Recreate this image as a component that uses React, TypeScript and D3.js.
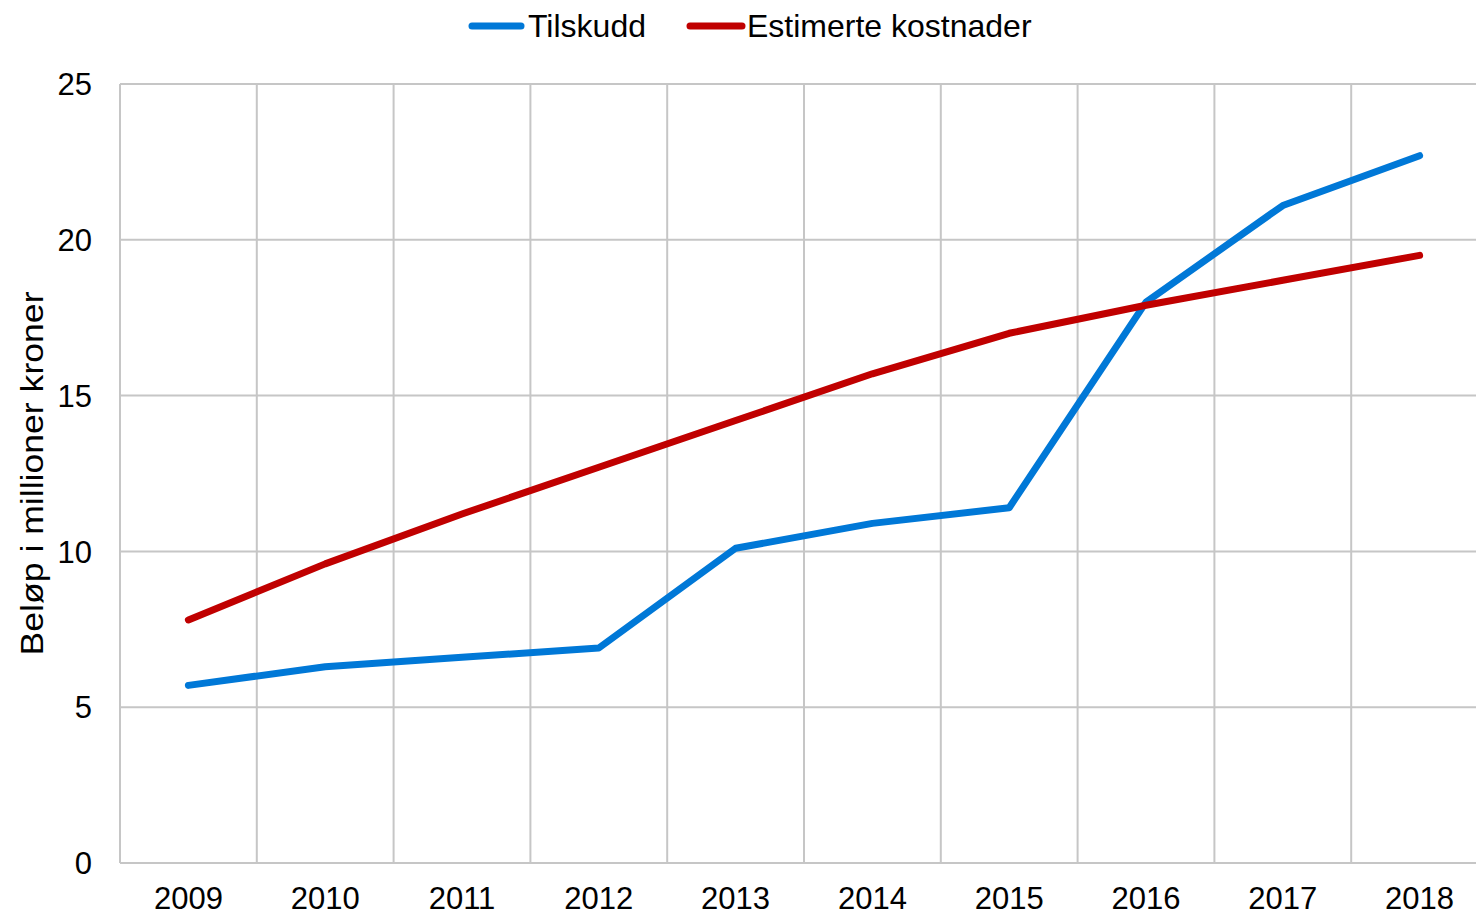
import React from 'react';
import * as d3 from 'd3';

const years = ['2009', '2010', '2011', '2012', '2013', '2014', '2015', '2016', '2017', '2018'];
const tilskudd = [5.7, 6.3, 6.6, 6.9, 10.1, 10.9, 11.4, 18.0, 21.1, 22.7];
const estimerte = [7.8, 9.6, 11.2, 12.7, 14.2, 15.7, 17.0, 17.9, 18.7, 19.5];
const yTicks = [0, 5, 10, 15, 20, 25];

const series = [
    { name: 'Tilskudd', values: tilskudd, color: '#0078D7' },
    { name: 'Estimerte kostnader', values: estimerte, color: '#C00000' },
];

const App = () => {
    const width = 1476;
    const height = 916;
    const margin = { top: 84, right: -12, bottom: 53, left: 120 };
    const font = '"Liberation Sans", Arial, sans-serif';

    const x = d3.scaleBand()
        .domain(years)
        .range([margin.left, width - margin.right]);

    const y = d3.scaleLinear()
        .domain([0, 25])
        .range([height - margin.bottom, margin.top]);

    const line = d3.line<number>()
        .x((_, i) => x(years[i])! + x.bandwidth() / 2)
        .y(d => y(d));

    const gridColor = '#C6C6C6';

    return (
        <svg width={width} height={height} style={{ position: 'absolute', left: 0, top: 0, fontFamily: font }}>
            {/* horizontal grid */}
            {yTicks.map(t => (
                <line key={'h' + t} x1={margin.left} x2={width} y1={y(t)} y2={y(t)} stroke={gridColor} strokeWidth={2} />
            ))}
            {/* vertical grid at band edges */}
            {years.map(yr => (
                <line key={'v' + yr} x1={x(yr)} x2={x(yr)} y1={y(25)} y2={y(0)} stroke={gridColor} strokeWidth={2} />
            ))}

            {/* y tick labels */}
            {yTicks.map(t => (
                <text key={'yt' + t} x={margin.left - 28} y={y(t)} dy="0.36em" textAnchor="end" fontSize={31} fill="#000">{t}</text>
            ))}

            {/* x tick labels */}
            {years.map(yr => (
                <text key={'xt' + yr} x={x(yr)! + x.bandwidth() / 2} y={y(0) + 46} textAnchor="middle" fontSize={31} fill="#000">{yr}</text>
            ))}

            {/* y axis title */}
            <text transform={`translate(43,${(y(0) + y(25)) / 2}) rotate(-90)`} textAnchor="middle" fontSize={31}
                textLength={364} lengthAdjust="spacingAndGlyphs" fill="#000">Beløp i millioner kroner</text>

            {/* lines */}
            {series.map(s => (
                <path key={s.name} d={line(s.values)!} fill="none" stroke={s.color} strokeWidth={7} strokeLinecap="round" strokeLinejoin="round" />
            ))}

            {/* legend */}
            <g>
                <line x1={472} x2={521} y1={26} y2={26} stroke={series[0].color} strokeWidth={7} strokeLinecap="round" />
                <text x={528} y={37} fontSize={32} fill="#000">{series[0].name}</text>
                <line x1={690} x2={742} y1={26} y2={26} stroke={series[1].color} strokeWidth={7} strokeLinecap="round" />
                <text x={747} y={37} fontSize={32} fill="#000">{series[1].name}</text>
            </g>
        </svg>
    );
};

export default App;
